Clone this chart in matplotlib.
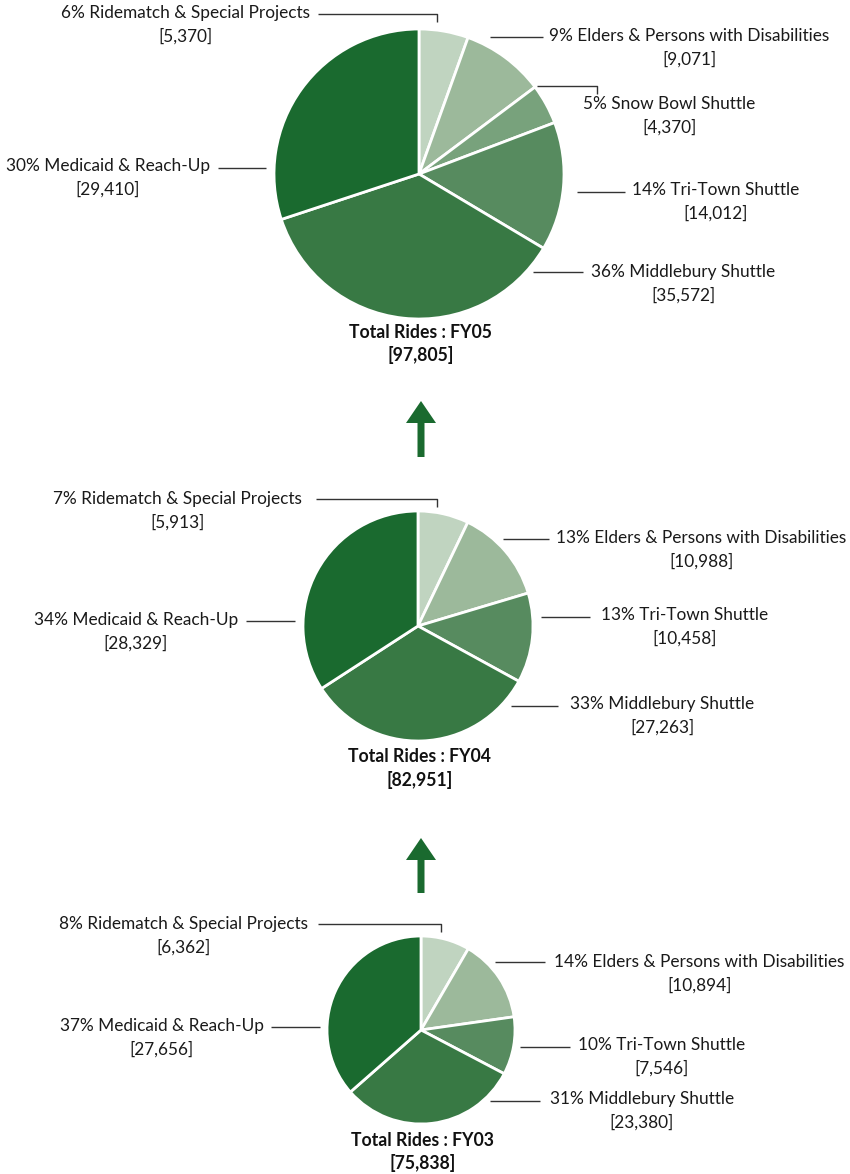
import numpy as np
import matplotlib.pyplot as plt
from matplotlib.patches import FancyArrow

plt.rcParams['font.family'] = ['Lato', 'DejaVu Sans']

# datos (viajes por programa)
cats05 = ['Ridematch & Special Projects', 'Elders & Persons with Disabilities',
          'Snow Bowl Shuttle', 'Tri-Town Shuttle', 'Middlebury Shuttle',
          'Medicaid & Reach-Up']
rides05 = [5370, 9071, 4370, 14012, 35572, 29410]
pct05 = [6, 9, 5, 14, 36, 30]

cats04 = ['Ridematch & Special Projects', 'Elders & Persons with Disabilities',
          'Tri-Town Shuttle', 'Middlebury Shuttle', 'Medicaid & Reach-Up']
rides04 = [5913, 10988, 10458, 27263, 28329]
pct04 = [7, 13, 13, 33, 34]

cats03 = cats04
rides03 = [6362, 10894, 7546, 23380, 27656]
pct03 = [8, 14, 10, 31, 37]

years = ['FY05', 'FY04', 'FY03']

colores = {
    'Ridematch & Special Projects': '#c0d4c0',
    'Elders & Persons with Disabilities': '#9cb99b',
    'Snow Bowl Shuttle': '#78a27c',
    'Tri-Town Shuttle': '#578b5f',
    'Middlebury Shuttle': '#387944',
    'Medicaid & Reach-Up': '#1a6a2f',
}
verde = '#1a6a2f'

# layout (pixeles, y hacia abajo)
W, H = 850, 1174
centros = [(419, 174), (418, 626), (421, 1030)]
radios = [145, 115, 94]
total_y = [332, 757, 1140]
# (x texto, y texto, x0 linea, x1 linea, y linea, y quiebre)
lay05 = [(310, 13, 318, 437, 14, 22), (549, 36, 490, 543, 37, None),
         (583, 104, 537, 597, 86, 94), (632, 190, 577, 625, 192, None),
         (591, 272, 533, 583, 272, None), (210, 166, 218, 266, 168, None)]
lay04 = [(302, 499, 316, 437, 499, 507), (556, 538, 503, 549, 539, None),
         (601, 615, 541, 590, 617, None), (570, 704, 511, 558, 706, None),
         (238, 620, 246, 295, 621, None)]
lay03 = [(308, 924, 318, 441, 924, 932), (554, 962, 495, 545, 962, None),
         (578, 1045, 520, 570, 1047, None), (550, 1099, 490, 540, 1101, None),
         (264, 1026, 271, 320, 1027, None)]
flechas = [(421, 457, 401), (421, 893, 838)]


def Y(y):
    return H - y


fig = plt.figure(figsize=(W / 100, H / 100), dpi=100)
ax = fig.add_axes([0, 0, 1, 1])

datos = [(cats05, rides05, pct05, lay05), (cats04, rides04, pct04, lay04),
         (cats03, rides03, pct03, lay03)]

# primero los pasteles
for k, (cats, rides, pcts, lay) in enumerate(datos):
    cx, cy = centros[k]
    ax.pie(rides, colors=[colores[c] for c in cats], startangle=90,
           counterclock=False, center=(cx, Y(cy)), radius=radios[k],
           wedgeprops=dict(edgecolor='white', linewidth=2))

# fijar limites antes de medir textos
ax.set_xlim(0, W)
ax.set_ylim(0, H)
ax.set_aspect('auto')
ax.axis('off')
rend = fig.canvas.get_renderer()
inv = ax.transData.inverted()

fs = 12.4
for k, (cats, rides, pcts, lay) in enumerate(datos):
    cx, cy = centros[k]
    for c, v, p, (tx, ty, x0, x1, ly, qy) in zip(cats, rides, pcts, lay):
        izq = tx < cx
        t1 = ax.text(tx, Y(ty), '%d%% %s' % (p, c), ha='right' if izq else 'left',
                     va='center', fontsize=fs, color='#1a1a1a')
        bb = t1.get_window_extent(renderer=rend)
        mx = inv.transform(((bb.x0 + bb.x1) / 2, 0))[0]
        ax.text(mx, Y(ty + 23), '[{:,}]'.format(v), ha='center', va='center',
                fontsize=fs, color='#1a1a1a')
        xs = [x0, x1]
        ys = [Y(ly), Y(ly)]
        if qy is not None:
            xs.append(x1)
            ys.append(Y(qy))
        ax.plot(xs, ys, color='#333333', lw=1.0, solid_capstyle='butt')
    ax.text(cx + 2, Y(total_y[k]), 'Total Rides : ' + years[k], ha='center',
            va='center', fontsize=12.7, fontweight='bold', color='#111111')
    ax.text(cx + 2, Y(total_y[k] + 23), '[{:,}]'.format(sum(rides)), ha='center',
            va='center', fontsize=12.7, fontweight='bold', color='#111111')

for x, yb, yt in flechas:
    ax.add_patch(FancyArrow(x, Y(yb), 0, yb - yt, width=7, head_width=30,
                            head_length=22, length_includes_head=True,
                            color=verde, lw=0))

fig.savefig('out.png', dpi=100)
